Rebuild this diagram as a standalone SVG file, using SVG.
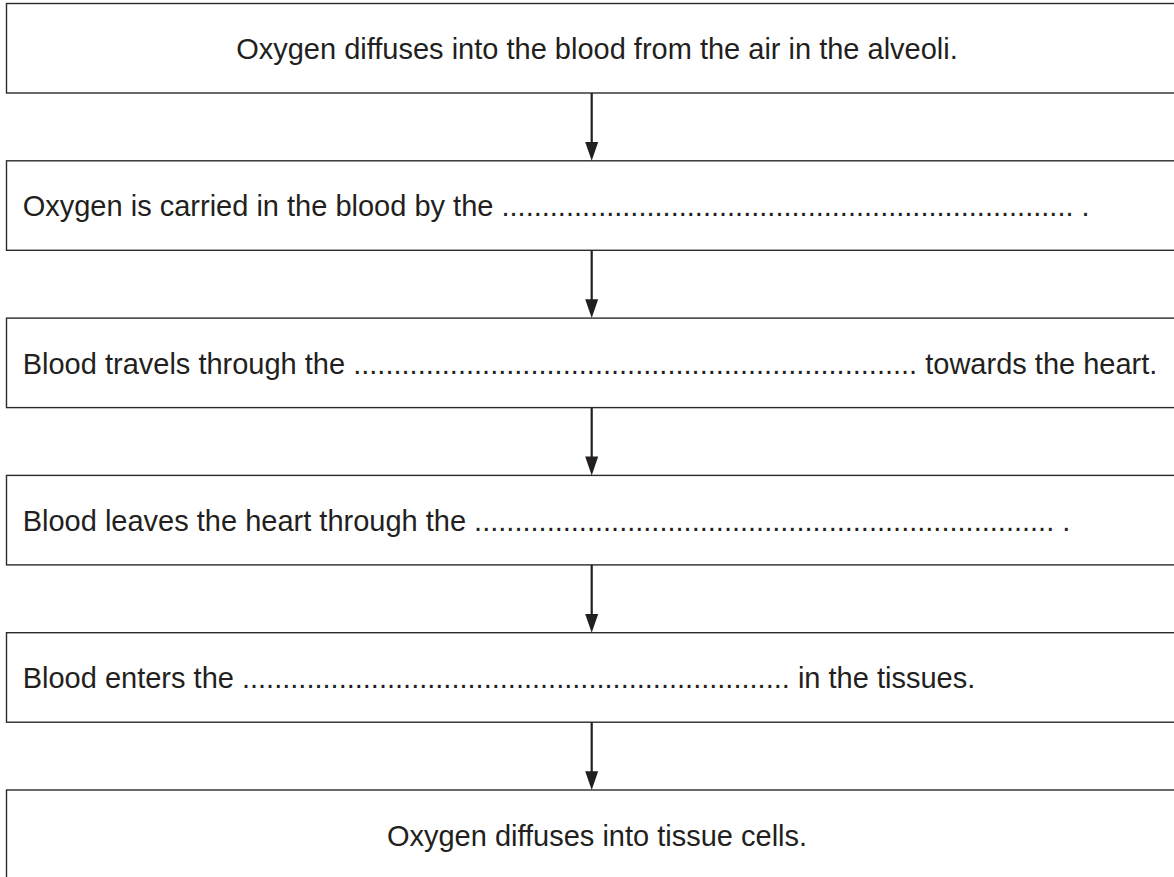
<svg xmlns="http://www.w3.org/2000/svg" width="1174" height="877" viewBox="0 0 1174 877">
<defs>
<style>
.box{fill:#ffffff;stroke:#2b2b2b;stroke-width:1.4}
.t{font-family:"Liberation Sans",Arial,Helvetica,sans-serif;font-size:29px;fill:#231f20}
.c{text-anchor:middle}
.conn line{stroke:#231f20;stroke-width:2.2}
.conn polygon{fill:#231f20}
</style>
</defs>
<rect width="1174" height="877" fill="#ffffff"/>
<g id="node1"><rect class="box" x="6.5" y="3.5" width="1180" height="89.5"/><text class="t c" x="597" y="59">Oxygen diffuses into the blood from the air in the alveoli.</text></g>
<g id="node2"><rect class="box" x="6.5" y="160.8" width="1180" height="89.5"/><text class="t" x="22.7" y="216.3">Oxygen is carried in the blood by the ....................................................................... .</text></g>
<g id="node3"><rect class="box" x="6.5" y="318.1" width="1180" height="89.5"/><text class="t" x="22.7" y="373.6">Blood travels through the ...................................................................... towards the heart.</text></g>
<g id="node4"><rect class="box" x="6.5" y="475.4" width="1180" height="89.5"/><text class="t" x="22.7" y="530.9">Blood leaves the heart through the ........................................................................ .</text></g>
<g id="node5"><rect class="box" x="6.5" y="632.7" width="1180" height="89.5"/><text class="t" x="22.7" y="688.2">Blood enters the .................................................................... in the tissues.</text></g>
<g id="node6"><rect class="box" x="6.5" y="790" width="1180" height="100"/><text class="t c" x="597" y="845.5">Oxygen diffuses into tissue cells.</text></g>
<g id="connectors" class="conn">
<line x1="591.7" y1="93" x2="591.7" y2="145"/><polygon points="585.2,142 598.2,142 591.7,160.8"/>
<line x1="591.7" y1="250.3" x2="591.7" y2="302"/><polygon points="585.2,299.3 598.2,299.3 591.7,318.1"/>
<line x1="591.7" y1="407.6" x2="591.7" y2="459"/><polygon points="585.2,456.6 598.2,456.6 591.7,475.4"/>
<line x1="591.7" y1="564.9" x2="591.7" y2="617"/><polygon points="585.2,613.9 598.2,613.9 591.7,632.7"/>
<line x1="591.7" y1="722.2" x2="591.7" y2="774"/><polygon points="585.2,771.2 598.2,771.2 591.7,790"/>
</g>
</svg>
